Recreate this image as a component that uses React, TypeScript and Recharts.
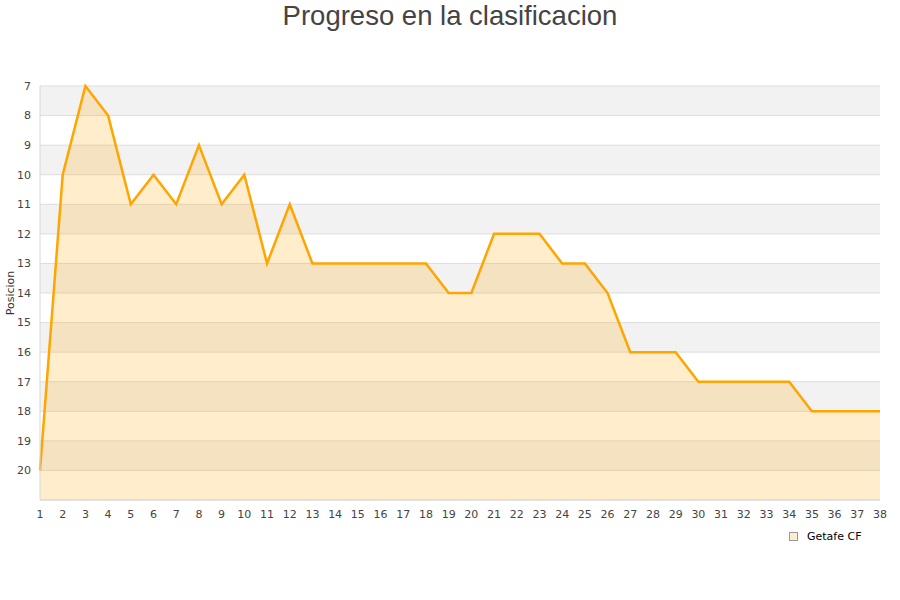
import React from 'react';
import { ComposedChart, Area, XAxis, YAxis, CartesianGrid, Legend } from 'recharts';

const jornadas = [1,2,3,4,5,6,7,8,9,10,11,12,13,14,15,16,17,18,19,20,21,22,23,24,25,26,27,28,29,30,31,32,33,34,35,36,37,38];
const posiciones = [20,10,7,8,11,10,11,9,11,10,13,11,13,13,13,13,13,13,14,14,12,12,12,13,13,14,16,16,16,17,17,17,17,17,18,18,18,18];
const yTicks = [7,8,9,10,11,12,13,14,15,16,17,18,19,20];
const teamName = 'Getafe CF';
const title = 'Progreso en la clasificacion';

const data = jornadas.map((j, i) => ({ jornada: j, pos: posiciones[i] }));

const tickStyle = { fontFamily: 'DejaVu Sans', fontSize: 11, fill: '#444' };

const LegendContent = () => (
  <div style={{ display: 'flex', alignItems: 'center', fontFamily: 'DejaVu Sans', fontSize: 11, color: '#000' }}>
    <span style={{ display: 'inline-block', width: 7, height: 7, background: '#ffedcc', border: '1px solid #999', marginRight: 9 }} />
    <span>{teamName}</span>
  </div>
);

export default function App() {
  return (
    <div style={{ position: 'absolute', left: 0, top: 0, width: 900, height: 600, background: '#fff' }}>
      <div style={{ position: 'absolute', top: 0, left: 0, width: 900, textAlign: 'center', fontFamily: 'Liberation Sans', fontSize: 27.5, color: '#444', lineHeight: '32px' }}>
        {title}
      </div>
      <ComposedChart width={900} height={600} data={data} margin={{ top: 86, right: 20, bottom: 56, left: 0 }}>
        <CartesianGrid vertical={false} stroke="#dddddd" horizontalFill={['#f2f2f2', '#ffffff']} fillOpacity={1} />
        <XAxis
          dataKey="jornada"
          type="number"
          domain={[1, 38]}
          ticks={jornadas}
          interval={0}
          height={30}
          tick={tickStyle}
          tickLine={false}
          tickSize={0}
          tickMargin={10}
          axisLine={{ stroke: '#d8d8d8' }}
        />
        <YAxis
          type="number"
          domain={[7, 21]}
          reversed
          ticks={yTicks}
          interval={0}
          width={40}
          tick={tickStyle}
          tickLine={false}
          tickSize={0}
          tickMargin={9}
          axisLine={{ stroke: '#d8d8d8' }}
          label={{ value: 'Posicion', angle: -90, position: 'insideLeft', offset: 10, style: { fontFamily: 'DejaVu Sans', fontSize: 11, fill: '#333', textAnchor: 'middle' } }}
        />
        <YAxis yAxisId="r" orientation="right" width={0} tick={false} tickLine={false} axisLine={{ stroke: '#d8d8d8' }} />
        <Area
          type="linear"
          dataKey="pos"
          name={teamName}
          baseValue={21}
          stroke="#ffa500"
          strokeWidth={2.5}
          fill="#ffa500"
          fillOpacity={0.2}
          dot={false}
          activeDot={false}
          isAnimationActive={false}
        />
        <Legend content={<LegendContent />} wrapperStyle={{ position: 'absolute', left: 789, top: 530, width: 100, height: 14 }} />
      </ComposedChart>
    </div>
  );
}
